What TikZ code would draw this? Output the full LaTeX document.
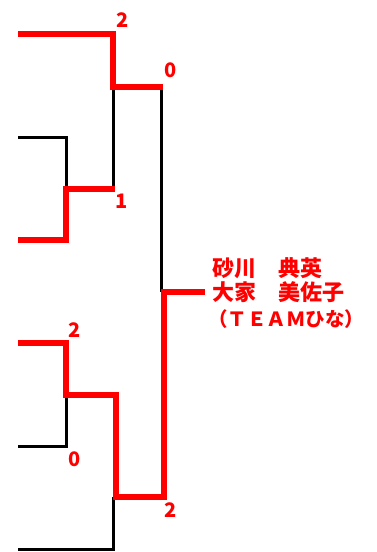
\documentclass[tikz,border=0pt]{standalone}
\usepackage{fontspec}
\newfontfamily\jpfont{Noto Sans CJK JP}
\begin{document}
\begin{tikzpicture}[x=1pt,y=-1pt,
  win/.style={draw=red, line width=6pt, line join=miter},
  lose/.style={draw=black, line width=3pt, line join=miter},
  scorelbl/.style={text=red, font=\jpfont\bfseries\fontsize{20}{20}\selectfont, inner sep=0pt},
  teamtext/.style={text=red, inner sep=0pt, anchor=base west}]
\path[use as bounding box] (0,0) rectangle (377,552);
\coordinate (e1) at (18,34);
\coordinate (e2) at (18,137);
\coordinate (e3) at (18,240);
\coordinate (e4) at (18,343);
\coordinate (e5) at (18,446);
\coordinate (e6) at (18,549);
\coordinate (a1) at (66,189);
\coordinate (a2) at (66,395);
\coordinate (b1) at (113,87);
\coordinate (b2) at (113,497);
\coordinate (c) at (161,292);
\coordinate (w) at (205,292);
% losers
\draw[lose] (e2) -| (a1);
\draw[lose] (a1 -| b1) -- (b1);
\draw[lose] (b1 -| c) -- (c);
\draw[lose] (e5) -| (a2);
\draw[lose] (e6) -| (b2);
% winners
\draw[win] (e1) -| (b1) -- ([xshift=1.5pt]b1 -| c);
\draw[win] (e3) -| (a1) -- ([xshift=1.5pt]a1 -| b1);
\draw[win] (e4) -| (a2) -- ([xshift=3pt]a2 -| b2) -- ([xshift=3pt]b2) -- ([xshift=3pt]b2 -| c) -- ([xshift=3pt]c) -- (w);
% scores
\node[scorelbl] (s1) at (123,20) {2};
\node[scorelbl] (s2) at (170.5,70.5) {0};
\node[scorelbl] (s3) at (122,201) {1};
\node[scorelbl] (s4) at (75,330) {2};
\node[scorelbl] (s5) at (75,459.5) {0};
\node[scorelbl] (s6) at (171,510.5) {2};
% team
\node[teamtext, font=\jpfont\bfseries\fontsize{22}{22}\selectfont] (n1) at (212,276) {砂川　典英};
\node[teamtext, font=\jpfont\bfseries\fontsize{22}{22}\selectfont] (n2) at (212,300) {大家　美佐子};
\node[teamtext, font=\jpfont\bfseries\fontsize{19.5}{19.5}\selectfont] (n3) at (208,326) {（ＴＥＡＭひな）};
\end{tikzpicture}
\end{document}
